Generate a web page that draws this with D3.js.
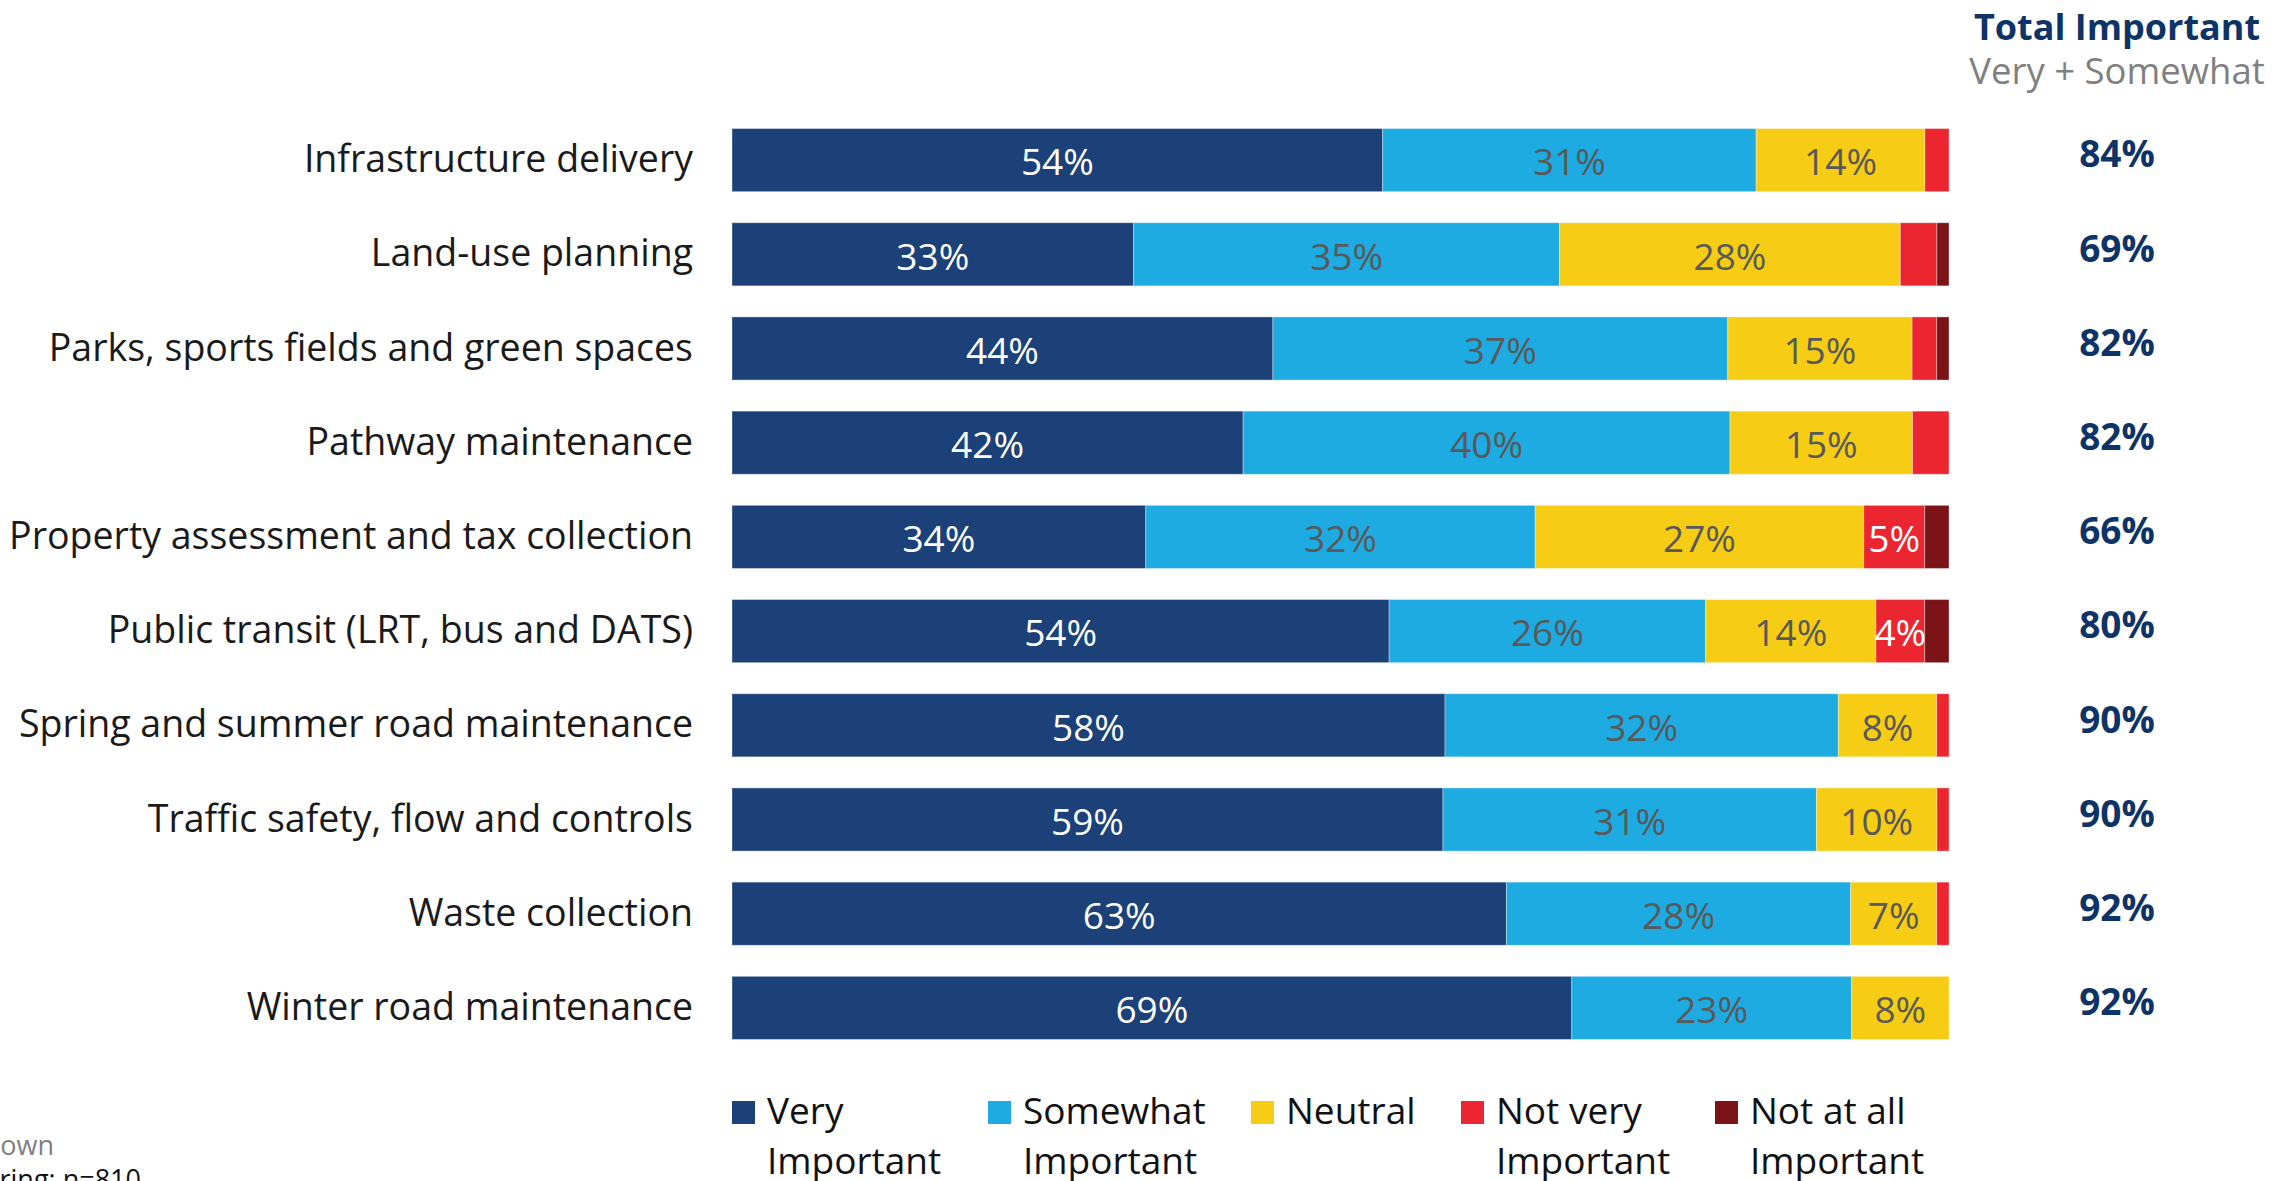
<!DOCTYPE html>
<html>
<head>
<meta charset="utf-8">
<script src="https://cdn.jsdelivr.net/npm/d3@7"></script>
<style>
  html, body { margin: 0; padding: 0; background: #ffffff; overflow: hidden; }
  svg { display: block; font-family: "Open Sans", "Noto Sans", sans-serif; }
</style>
</head>
<body>
<svg id="chart" width="2286" height="1181"></svg>
<script>
// ---- data ----
const categories = [
  "Infrastructure delivery",
  "Land-use planning",
  "Parks, sports fields and green spaces",
  "Pathway maintenance",
  "Property assessment and tax collection",
  "Public transit (LRT, bus and DATS)",
  "Spring and summer road maintenance",
  "Traffic safety, flow and controls",
  "Waste collection",
  "Winter road maintenance"
];
const seriesNames = ["Very Important", "Somewhat Important", "Neutral", "Not very Important", "Not at all Important"];
const legendLines = [["Very", "Important"], ["Somewhat", "Important"], ["Neutral"], ["Not very", "Important"], ["Not at all", "Important"]];
const veryImportant     = [54, 33, 44, 42, 34, 54, 58, 59, 63, 69];
const somewhatImportant = [31, 35, 37, 40, 32, 26, 32, 31, 28, 23];
const neutral           = [14, 28, 15, 15, 27, 14,  8, 10,  7,  8];
const notVeryImportant  = [ 2,  3,  2,  3,  5,  4,  1,  1,  1,  0];
const notAtAllImportant = [ 0,  1,  1,  0,  2,  2,  0,  0,  0,  0];
const totalImportant    = [84, 69, 82, 82, 66, 80, 90, 90, 92, 92];

const colors = ["#1b4178", "#1eabe2", "#f6cd14", "#ec2630", "#7b1416"];
const labelColors = ["#ffffff", "#595959", "#595959", "#ffffff", "#ffffff"];

// ---- build table ----
const seriesArrays = [veryImportant, somewhatImportant, neutral, notVeryImportant, notAtAllImportant];
const rows = categories.map((c, i) => {
  const vals = seriesArrays.map(a => a[i]);
  const sum = d3.sum(vals);
  let acc = 0;
  const segs = vals.map((v, k) => {
    const s = { cat: c, k, v, x0: acc / sum, x1: (acc + v) / sum };
    acc += v;
    return s;
  });
  return { cat: c, segs, total: totalImportant[i] };
});

const svg = d3.select("#chart");

const x = d3.scaleLinear().domain([0, 1]).range([732, 1949]);
const y = d3.scaleBand().domain(categories).range([113, 1055]).paddingInner(0.33).paddingOuter(0.165);

// category labels (axis)
const yAxis = d3.axisLeft(y).tickSize(0).tickPadding(0);
const gAxis = svg.append("g").attr("transform", "translate(693,0)").call(yAxis);
gAxis.select(".domain").remove();
gAxis.selectAll("text")
  .attr("font-family", "'Open Sans', sans-serif")
  .attr("font-size", 37.5)
  .attr("fill", "#1a1a1a")
  .attr("dy", "0.32em");

// bars
const gRows = svg.append("g").selectAll("g.row").data(rows).join("g").attr("class", "row");
gRows.selectAll("rect").data(d => d.segs.filter(s => s.v > 0)).join("rect")
  .attr("x", s => x(s.x0))
  .attr("width", s => x(s.x1) - x(s.x0))
  .attr("y", s => y(s.cat))
  .attr("height", y.bandwidth())
  .attr("fill", s => colors[s.k])
  .attr("stroke", "#ffffff")
  .attr("stroke-opacity", 0.35)
  .attr("stroke-width", 1);

gRows.selectAll("text.val").data(d => d.segs.filter(s => s.v >= 4)).join("text")
  .attr("class", "val")
  .attr("x", s => (x(s.x0) + x(s.x1)) / 2)
  .attr("y", s => y(s.cat) + y.bandwidth() / 2 + 2)
  .attr("dy", "0.36em")
  .attr("text-anchor", "middle")
  .attr("font-size", 37)
  .attr("fill", s => labelColors[s.k])
  .text(s => s.v + "%");

// total important column
const totX = 2117;
svg.append("g").selectAll("text").data(rows).join("text")
  .attr("x", totX)
  .attr("y", d => y(d.cat) + y.bandwidth() / 2 - 6)
  .attr("dy", "0.36em")
  .attr("text-anchor", "middle")
  .attr("font-size", 37)
  .attr("font-weight", "bold")
  .attr("fill", "#0e3467")
  .text(d => d.total + "%");

svg.append("text")
  .attr("x", totX).attr("y", 40)
  .attr("text-anchor", "middle")
  .attr("font-size", 36).attr("font-weight", "bold")
  .attr("fill", "#0e3467")
  .text("Total Important");
svg.append("text")
  .attr("x", totX).attr("y", 84)
  .attr("text-anchor", "middle")
  .attr("font-size", 36.5)
  .attr("fill", "#808080")
  .text("Very + Somewhat");

// legend
const legendX = [732, 988, 1251, 1461, 1715];
const gLeg = svg.append("g").selectAll("g").data(seriesNames).join("g")
  .attr("transform", (d, i) => `translate(${legendX[i]},0)`);
gLeg.append("rect")
  .attr("x", 0).attr("y", 1101).attr("width", 23).attr("height", 23)
  .attr("fill", (d, i) => colors[i]);
gLeg.append("text")
  .attr("x", 35).attr("y", 1124)
  .attr("font-size", 37)
  .attr("fill", "#111111")
  .selectAll("tspan").data((d, i) => legendLines[i]).join("tspan")
  .attr("x", 35)
  .attr("dy", (t, j) => j === 0 ? 0 : 50)
  .text(t => t);

// footnotes (partially off-canvas in the original)
svg.append("text")
  .attr("x", 54).attr("y", 1155)
  .attr("text-anchor", "end")
  .attr("font-size", 27)
  .attr("fill", "#808080")
  .text("Don't know not shown");
svg.append("text")
  .attr("x", 141).attr("y", 1189)
  .attr("text-anchor", "end")
  .attr("font-size", 27)
  .attr("fill", "#111111")
  .text("Spring: n=810");
</script>
</body>
</html>
